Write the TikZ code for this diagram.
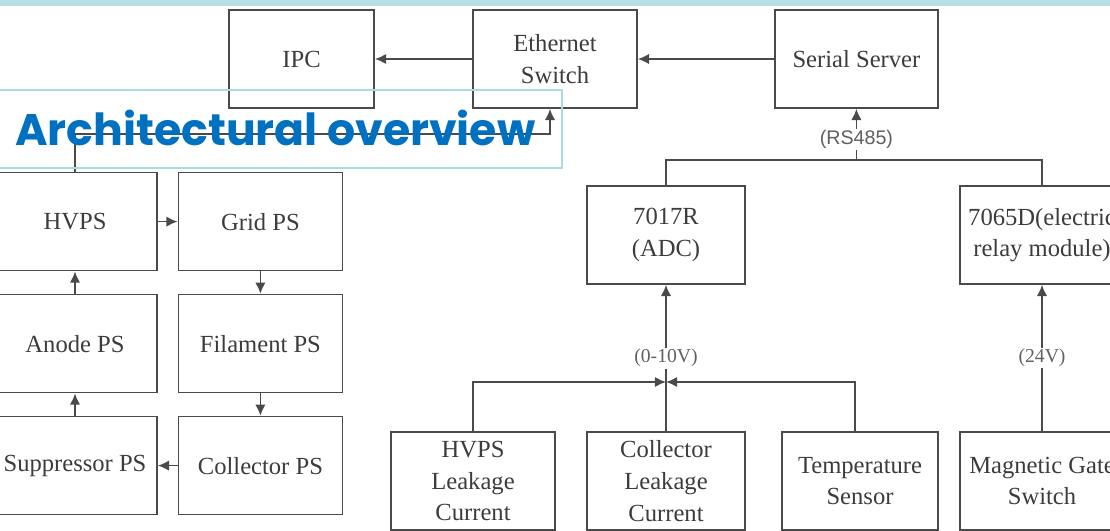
\documentclass[tikz,border=0pt]{standalone}
\usepackage{fontspec}
\setmainfont{Liberation Serif}
\setsansfont{Liberation Sans}
\newfontfamily\titlefont{Poppins}
\usetikzlibrary{arrows.meta}

\definecolor{linegray}{HTML}{4A4A4A}
\definecolor{textgray}{HTML}{3C3C3C}
\definecolor{labelgray}{HTML}{606060}
\definecolor{bandteal}{HTML}{B8DFE3}
\definecolor{titleblue}{HTML}{0070C0}
\definecolor{titleframe}{HTML}{A8DCE0}

\begin{document}
\begin{tikzpicture}[node distance=3.05cm,
    every node/.style={align=center}]
		\tikzset{%
  >={Latex[width=2.6mm,length=2.8mm]},
  % boxes and wires
            box/.style = {rectangle, draw=linegray, line width=1.2pt,
                           minimum width=4.1cm, minimum height=2.45cm,
                           inner sep=0pt, text=textgray,
                           font=\fontsize{17.5}{22.5}\selectfont},
       wire/.style = {draw=linegray, line width=1.2pt},
    siglabel/.style = {fill=white, inner sep=1pt, text=labelgray,
                           font=\fontsize{14}{16}\selectfont},
}
  % picture frame
  \useasboundingbox (0,0) rectangle (27.75,-13.25);
  \clip (0,0) rectangle (27.75,-13.25);
  \fill[bandteal] (0,0) rectangle (27.75,-0.15);

  % top row
  \node (ipc) [box, minimum width=3.625cm] at (7.54,-1.475) {IPC};
  \node (switch) [box] at (13.875,-1.475) {Ethernet\\Switch};
  \node (serial) [box, minimum width=4.075cm] at (21.41,-1.475) {Serial Server};

  % power supplies
  \node (hvps) [box] at (1.875,-5.54) {HVPS};
  \node (grid) [box, right of=hvps, xshift=1.585cm] {Grid PS};
  \node (anode) [box, below of=hvps] {Anode PS};
  \node (filament) [box, below of=grid] {Filament PS};
  \node (suppressor) [box, below of=anode] {Suppressor PS};
  \node (collps) [box, below of=filament] {Collector PS};

  % modules
  \node (adc) [box, minimum width=3.95cm] at (16.65,-5.875) {7017R\\(ADC)};
  \node (relay) [box] at (26.05,-5.875) {7065D(electric\\relay module)};

  % sensors
  \node (hvleak) [box] at (11.825,-12.025) {HVPS\\Leakage\\Current};
  \node (colleak) [box, minimum width=3.95cm] at (16.65,-12.025) {Collector\\Leakage\\Current};
  \node (temp) [box, minimum width=3.9cm] at (21.5,-12.025) {Temperature\\Sensor};
  \node (gate) [box] at (26.05,-12.025) {Magnetic Gate\\Switch};

  \coordinate (bend) at (13.75,-3.35);
  \coordinate (bus) at (21.41,-4.0);
  \coordinate (join) at (16.65,-9.55);

  % connectors
\draw[wire,->] (switch) -- (ipc);
\draw[wire,->] (serial) -- (switch);
\draw[wire,->] (hvps.north) |- (bend) -- (bend |- switch.south);
\draw[wire,->] (anode) -- (hvps);
\draw[wire,->] (suppressor) -- (anode);
\draw[wire,->] (hvps) -- (grid);
\draw[wire,->] (grid) -- (filament);
\draw[wire,->] (filament) -- (collps);
\draw[wire,->] (collps) -- (suppressor);

\draw[wire] (adc.north) |- (relay.north |- bus) -- (relay.north);
\draw[wire,->] (bus) -- node[siglabel, pos=0.4, font=\sffamily\fontsize{14}{16}\selectfont]{(RS485)} (serial.south);

\draw[wire,->] (hvleak.north) |- (join);
\draw[wire,->] ([xshift=-0.125cm]temp.north) |- (join);
\draw[wire] (colleak.north) -- (join);
\draw[wire,->] (join) -- node[siglabel, pos=0.245]{(0-10V)} (adc.south);
\draw[wire,->] (gate) -- node[siglabel]{(24V)} (relay);

  % title overlay
\draw[titleframe, line width=0.8pt] (-0.1,-2.25) rectangle (14.05,-4.2);
\node (title) [anchor=base west, inner sep=0pt, text=titleblue,
    font=\titlefont\bfseries] at (0.375,-3.625)
    {\resizebox{13cm}{!}{Architectural overview}};

  \end{tikzpicture}
\end{document}
